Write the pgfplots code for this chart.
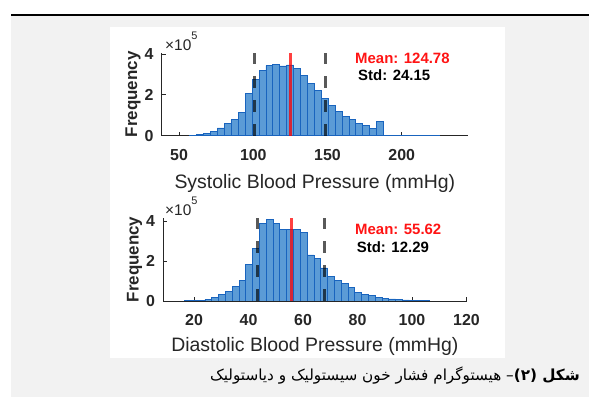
\documentclass[border=0pt]{standalone}
\usepackage{pgfplots}
\pgfplotsset{compat=1.18}
\usepackage{fontspec}
\setmainfont{Liberation Sans}
\newfontfamily\arabicfont[Script=Arabic]{DejaVu Sans}
\TeXXeTstate=1
\definecolor{barfill}{RGB}{91,155,214}
\definecolor{baredge}{RGB}{25,100,190}
\definecolor{bggrey}{RGB}{242,242,242}
\definecolor{txt}{RGB}{38,38,38}
\definecolor{meanred}{RGB}{255,20,20}
\pgfplotsset{
  histax/.style={
    scale only axis, anchor=south west,
    axis lines=left, axis line style={-, draw=txt, line width=0.9bp},
    tick align=inside, major tick length=4bp,
    every tick/.style={draw=txt, line width=0.9bp},
    ymin=0, ytick={0,200000,400000}, yticklabels={0,2,4},
    scaled y ticks=false, scaled x ticks=false,
    /pgf/number format/assume math mode=true,
    ticklabel style={font=\fontsize{16}{16}\bfseries\selectfont, text=txt, inner sep=0pt},
    xticklabel style={anchor=base, yshift=-25bp},
    yticklabel style={anchor=east, xshift=-8bp},
    ylabel={Frequency},
    ylabel style={font=\fontsize{17}{17}\bfseries\selectfont, text=txt, anchor=base},
    xlabel style={font=\fontsize{19.5}{19.5}\selectfont, text=txt, anchor=base},
    clip=true,
  },
  meanline/.style={color=red, opacity=0.75, line width=3bp},
  sdline/.style={color=black, opacity=0.65, line width=3bp, dash pattern=on 12bp off 12bp},
  bars/.style={ybar interval, fill=barfill, draw=baredge, line width=0.8bp},
}
\begin{document}
\begin{tikzpicture}
\useasboundingbox (0,0) rectangle (589bp,397bp);
\fill[white] (0,0) rectangle (589bp,397bp);
\fill[bggrey] (10.5bp,0) rectangle (589bp,381.2bp);
\fill[black] (10.5bp,381.2bp) rectangle (589bp,383.2bp);
\fill[white] (110bp,39bp) rectangle (505bp,370bp);

% ---------- Systolic ----------
\begin{axis}[histax,
  at={(161.7bp,261.3bp)}, width=306.3bp, height=82.6bp,
  xmin=38.3, xmax=244.6, ymax=405000,
  xtick={50,100,150,200},
  xlabel={Systolic Blood Pressure (mmHg)},
  xlabel style={at={(axis description cs:0.5,-0.637)}},
  ylabel style={at={(axis description cs:-0.0806,0.5)}},
]
\addplot[bars] coordinates {
(57.24,2000) (61.90,5000) (66.56,13000) (71.22,23000) (75.88,38000)
(80.54,62000) (85.20,79000) (89.86,115000) (94.52,206000) (99.18,275000)
(103.84,320000) (108.50,344000) (113.16,349000) (117.82,342000) (122.48,347000)
(127.14,330000) (131.80,295000) (136.46,258000) (141.12,220000) (145.78,184000)
(150.44,150000) (155.10,119000) (159.76,94000) (164.42,78000) (169.08,62000)
(173.74,50000) (178.40,34000) (183.06,68000) (187.72,3000) (192.38,2000)
(197.04,1000) (201.70,2000) (206.36,2000) (211.02,0) (215.68,1000)
(220.34,2000) (225.00,0)
};
\addplot[meanline] coordinates {(124.78,0) (124.78,405000)};
\addplot[sdline] coordinates {(100.63,0) (100.63,405000)};
\addplot[sdline] coordinates {(148.93,0) (148.93,405000)};
\end{axis}

% ---------- Diastolic ----------
\begin{axis}[histax,
  at={(163.3bp,96bp)}, width=303.2bp, height=83bp,
  xmin=8.7, xmax=120, ymax=415000,
  xtick={20,40,60,80,100,120},
  xlabel={Diastolic Blood Pressure (mmHg)},
  xlabel style={at={(axis description cs:0.5,-0.614)}},
  ylabel style={at={(axis description cs:-0.0815,0.5)}},
]
\addplot[bars] coordinates {
(16.5,1000) (19.0,2000) (21.5,3000) (24.0,8000) (26.5,16000)
(29.0,33000) (31.5,46000) (34.0,71000) (36.5,104000) (39.0,183000)
(41.5,263000) (44.0,388000) (46.5,410000) (49.0,390000) (51.5,356000)
(54.0,356000) (56.5,360000) (59.0,342000) (61.5,230000) (64.0,212000)
(66.5,165000) (69.0,123000) (71.5,104000) (74.0,87000) (76.5,66000)
(79.0,43000) (81.5,33000) (84.0,26000) (86.5,16000) (89.0,13000)
(91.5,10000) (94.0,7000) (96.5,5000) (99.0,3000) (101.5,3000)
(104.0,2000) (106.5,0)
};
\addplot[meanline] coordinates {(55.62,0) (55.62,415000)};
\addplot[sdline] coordinates {(43.33,0) (43.33,415000)};
\addplot[sdline] coordinates {(67.91,0) (67.91,415000)};
\end{axis}

% scale labels
\node[anchor=base west, inner sep=0, text=txt, font=\fontsize{15.5}{15.5}\selectfont] at (165bp,346.3bp) {×10\raisebox{11bp}{\fontsize{11}{11}\selectfont 5}};
\node[anchor=base west, inner sep=0, text=txt, font=\fontsize{15.5}{15.5}\selectfont] at (165bp,181.3bp) {×10\raisebox{11bp}{\fontsize{11}{11}\selectfont 5}};

% statistics text
\node[anchor=base west, inner sep=0, text=meanred, font=\fontsize{15}{15}\bfseries\selectfont] at (355bp,333.7bp) {Mean: 124.78};
\node[anchor=base west, inner sep=0, text=black, font=\fontsize{15}{15}\bfseries\selectfont] at (358bp,316.3bp) {Std: 24.15};
\node[anchor=base west, inner sep=0, text=meanred, font=\fontsize{15}{15}\bfseries\selectfont] at (355bp,162.7bp) {Mean: 55.62};
\node[anchor=base west, inner sep=0, text=black, font=\fontsize{15}{15}\bfseries\selectfont] at (356.7bp,144.7bp) {Std: 12.29};

% caption
\node[anchor=base east, inner sep=0, text=black] at (580bp,17bp) {\arabicfont\fontsize{15.3}{15.3}\selectfont\beginR{\bfseries شکل (۲)}– هیستوگرام فشار خون سیستولیک و دیاستولیک\endR};
\end{tikzpicture}
\end{document}
